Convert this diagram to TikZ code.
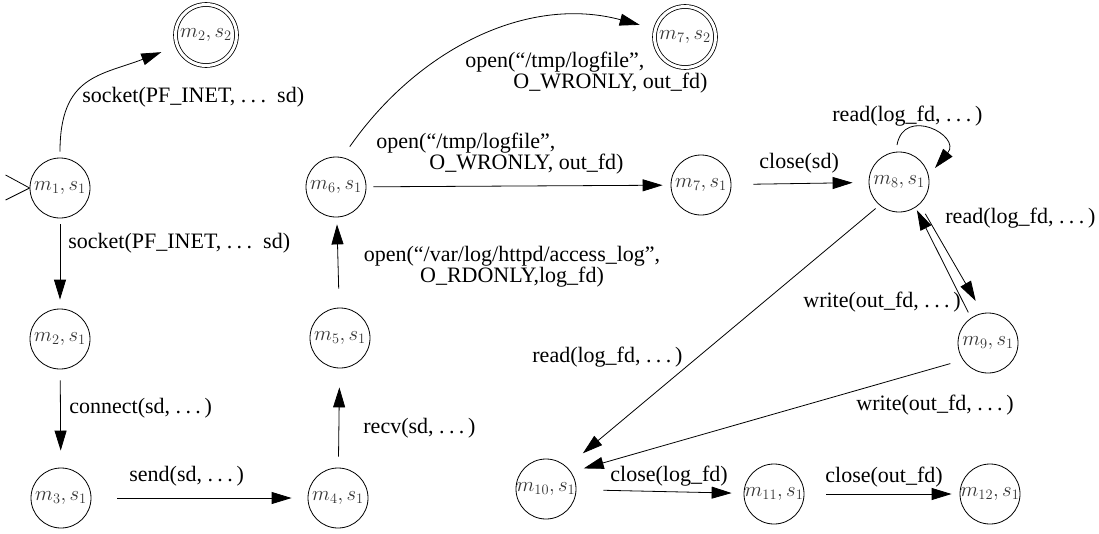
\documentclass[tikz,border=0pt]{standalone}
\usepackage{fontspec}
\setmainfont{Liberation Serif}
\usetikzlibrary{arrows.meta}
\newcommand{\ddd}{.\kern.2em.\kern.2em.\kern.17em}
\tikzset{
	state/.style={draw, circle, minimum size=60pt, inner sep=0pt, text=black!80, font=\fontsize{21}{21}\selectfont},
	final/.style={state, double, double distance=3pt, minimum size=61pt},
	lbl/.style={anchor=west, inner sep=0pt, font=\fontsize{22}{21}\selectfont},
}
\begin{document}
\begin{tikzpicture}[x=1pt, y=1pt, >={Triangle[length=20pt,width=12pt]}, line width=0.8pt]
		\useasboundingbox (0,0) rectangle (1099,-533);
		% states
		\node[state] (m1) at (60,-188) {$m_1, s_1$};
		\node[state] (m2) at (60,-339) {$m_2, s_1$};
		\node[state] (m3) at (61,-498) {$m_3, s_1$};
		\node[state] (m4) at (338,-498) {$m_4, s_1$};
		\node[state] (m5) at (340,-338) {$m_5, s_1$};
		\node[state] (m6) at (336,-187) {$m_6, s_1$};
		\node[final] (m22) at (206,-35) {$m_2, s_2$};
		\node[final] (m72) at (685,-37) {$m_7, s_2$};
		\node[state] (m7) at (701,-185) {$m_7, s_1$};
		\node[state] (m8) at (899,-182) {$m_8, s_1$};
		\node[state] (m9) at (988,-343) {$m_9, s_1$};
		\node[state] (m10) at (546,-489) {$m_{10}, s_1$};
		\node[state] (m11) at (774,-494) {$m_{11}, s_1$};
		\node[state] (m12) at (990,-494) {$m_{12}, s_1$};
		% start mark
		\draw (m1.west) -- ++(-24,13) (m1.west) -- ++(-24,-12);
		% transitions
		\draw[->, shorten <=6pt, shorten >=17pt] (m1) to[out=90, in=201, looseness=1.3] (m22);
		\draw[->, shorten <=6pt, shorten >=9pt] (m1) -- (m2);
		\draw[->, shorten <=11pt, shorten >=17pt] (m2) -- (m3);
		\draw[->, shorten <=26pt, shorten >=16pt] (m3) -- (m4);
		\draw[->, shorten <=11pt, shorten >=19pt] (m4) -- (m5);
		\draw[->, shorten <=19pt, shorten >=7pt] (m5) -- (m6);
		\draw[->, shorten <=13pt, shorten >=16pt] (m6.78) to[out=55, in=165] (m72);
		\draw[->, shorten <=7pt, shorten >=8pt] (m6) -- (m7);
		\draw[->, shorten <=22pt, shorten >=16pt] (m7) -- (m8);
		\draw[->] ([shift={(-2,37)}]m8.center) .. controls +(80:40) and +(50:42) .. ([shift={(36,14)}]m8.center);
		\draw[->, shorten <=11pt, shorten >=14pt] (m8.-47) -- (m9.100);
		\draw[->, shorten <=6pt, shorten >=3pt] (m9.124) -- (m8.-57);
		\draw[->, shorten <=5pt, shorten >=21pt] (m8.230) -- (m10.47);
		\draw[->, shorten <=13pt, shorten >=13pt] (m9.214) -- (m10.34);
		\draw[->, shorten <=27pt, shorten >=12pt] (m10) -- (m11);
		\draw[->, shorten <=22pt, shorten >=8pt] (m11) -- (m12);
		% labels
		\node[lbl] (l1) at (82,-97) {socket(PF\_INET, \ddd{} sd)};
		\node[lbl] (l2) at (68,-243) {socket(PF\_INET, \ddd{} sd)};
		\node[lbl] (l3) at (69,-408) {connect(sd, \ddd)};
		\node[lbl] (l4) at (129,-476) {send(sd, \ddd)};
		\node[lbl] (l5) at (363,-428) {recv(sd, \ddd)};
		\node[lbl, anchor=center, align=center] (l6) at (512,-267) {open(``/var/log/httpd/access\_log'',\\ O\_RDONLY,log\_fd)};
		\node[lbl, align=left] (l7) at (465,-72.5) {open(``/tmp/logfile'',\\ \hspace*{48pt}O\_WRONLY, out\_fd)};
		\node[lbl, align=left] (l8) at (376,-153.5) {open(``/tmp/logfile'',\\ \hspace*{53pt}O\_WRONLY, out\_fd)};
		\node[lbl] (l9) at (759,-163) {close(sd)};
		\node[lbl] (l10) at (832,-116) {read(log\_fd, \ddd)};
		\node[lbl] (l11) at (945,-218) {read(log\_fd, \ddd)};
		\node[lbl] (l12) at (803,-302) {write(out\_fd, \ddd)};
		\node[lbl] (l13) at (532,-357) {read(log\_fd, \ddd)};
		\node[lbl] (l14) at (856,-405) {write(out\_fd, \ddd)};
		\node[lbl] (l15) at (610,-476) {close(log\_fd)};
		\node[lbl] (l16) at (825,-477) {close(out\_fd)};
\end{tikzpicture}
\end{document}
